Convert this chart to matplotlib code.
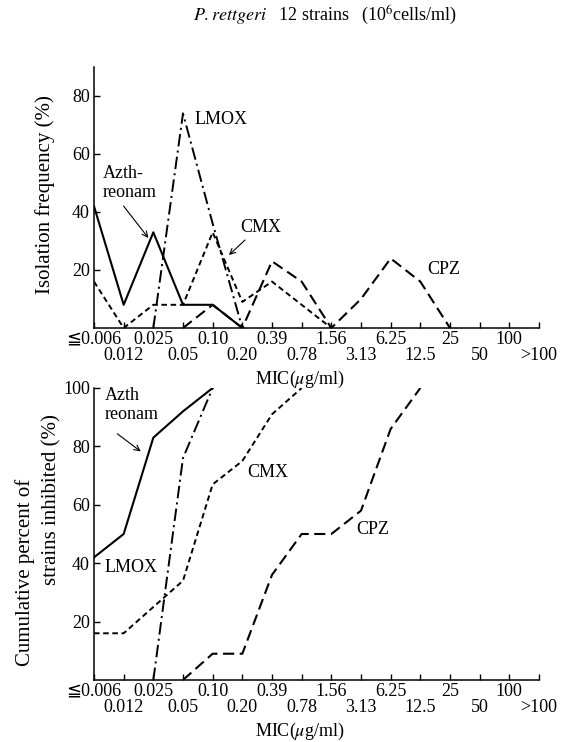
import matplotlib
matplotlib.use('Agg')
import matplotlib.pyplot as plt

plt.rcParams['font.family'] = ['Liberation Serif', 'DejaVu Serif', 'DejaVu Sans', 'Noto Sans CJK JP']
plt.rcParams['mathtext.fontset'] = 'stix'
plt.rcParams['lines.scale_dashes'] = False

# MIC categories (ug/ml)
mic_labels = ['≦0.006', '0.012', '0.025', '0.05', '0.10', '0.20', '0.39', '0.78',
              '1.56', '3.13', '6.25', '12.5', '25', '50', '100', '>100']

# isolation frequency (%)
azt_x = [0, 1, 2, 3, 4, 5]
azt_freq = [42, 8, 33, 8, 8, 0]
lmox_x = [2, 3, 4, 5]
lmox_freq = [0, 74, 36, 0]
cmx_x = [0, 1, 2, 3, 4, 5, 6, 7, 8]
cmx_freq = [16, 0, 8, 8, 33, 9, 16, 8, 0]
cpz_x = [3, 4, 5, 6, 7, 8, 9, 10, 11, 12]
cpz_freq = [0, 8, 0, 23, 16, 0, 10, 24, 16, 0]

# cumulative percent of strains inhibited
azt_cx = [0, 1, 2, 3, 4]
azt_cum = [42, 50, 83, 92, 100]
lmox_cx = [2, 3, 4]
lmox_cum = [0, 76, 100]
cmx_cx = [0, 1, 2, 3, 4, 5, 6, 7]
cmx_cum = [16, 16, 25, 34, 67, 75, 91, 100]
cpz_cx = [3, 4, 5, 6, 7, 8, 9, 10, 11]
cpz_cum = [0, 9, 9, 36, 50, 50, 58, 86, 100]

styles = {
    'azt': dict(color='black', lw=1.5, ls='-'),
    'lmox': dict(color='black', lw=1.4, dashes=(9, 3, 1.5, 3)),
    'cmx': dict(color='black', lw=1.4, dashes=(4, 2.6)),
    'cpz': dict(color='black', lw=1.5, dashes=(8, 4)),
}

fig = plt.figure(figsize=(5.63, 7.42), dpi=100)
ax1 = fig.add_axes([94 / 563, 1 - 328 / 742, 445 / 563, 261 / 742])
ax2 = fig.add_axes([94 / 563, 1 - 680 / 742, 445 / 563, 292 / 742])


def style_axis(ax, ymax, yticks, axh_px):
    ax.set_xlim(0, 15)
    ax.set_ylim(0, ymax)
    for s in ['top', 'right']:
        ax.spines[s].set_visible(False)
    for s in ['left', 'bottom']:
        ax.spines[s].set_linewidth(1.1)
    ax.set_yticks(yticks)
    # two rows of MIC labels: even categories on top row, odd ones below
    ax.set_xticks(range(0, 16, 2))
    ax.set_xticklabels(mic_labels[0::2])
    ax.set_xticks(range(1, 16, 2), minor=True)
    ax.set_xticklabels(mic_labels[1::2], minor=True)
    ax.tick_params(which='both', direction='in', length=4, width=1.0, labelsize=13)
    ax.tick_params(axis='x', which='major', pad=2)
    ax.tick_params(axis='x', which='minor', pad=14)
    ax.tick_params(axis='y', pad=3)
    ax.text(0.463, -51 / axh_px, 'MIC(' + r'$\mu$' + 'g/ml)',
            transform=ax.transAxes, ha='center', va='center', fontsize=13)


# top panel
ax1.plot(azt_x, azt_freq, **styles['azt'])
ax1.plot(lmox_x, lmox_freq, **styles['lmox'])
ax1.plot(cmx_x, cmx_freq, **styles['cmx'])
ax1.plot(cpz_x, cpz_freq, **styles['cpz'])
style_axis(ax1, 90, [20, 40, 60, 80], 261)

ax1.text(3.4, 72, 'LMOX', fontsize=13, va='center')
ax1.text(0.3, 50, 'Azth-\nreonam', fontsize=13, va='center', linespacing=1.1)
ax1.annotate('', xy=(1.89, 30.3), xytext=(0.94, 42.8),
             arrowprops=dict(arrowstyle='->', lw=0.8, color='black'))
ax1.text(4.92, 34.8, 'CMX', fontsize=13, va='center')
ax1.annotate('', xy=(4.48, 24.5), xytext=(5.16, 31),
             arrowprops=dict(arrowstyle='->', lw=0.8, color='black'))
ax1.text(11.22, 20, 'CPZ', fontsize=13, va='center')

# bottom panel
ax2.plot(azt_cx, azt_cum, **styles['azt'])
ax2.plot(lmox_cx, lmox_cum, **styles['lmox'])
ax2.plot(cmx_cx, cmx_cum, **styles['cmx'])
ax2.plot(cpz_cx, cpz_cum, **styles['cpz'])
style_axis(ax2, 100, [20, 40, 60, 80, 100], 292)

ax2.text(0.37, 94.2, 'Azth\nreonam', fontsize=13, va='center', linespacing=1.1)
ax2.annotate('', xy=(1.65, 77.7), xytext=(0.71, 84.9),
             arrowprops=dict(arrowstyle='->', lw=0.8, color='black'))
ax2.text(5.16, 71.2, 'CMX', fontsize=13, va='center')
ax2.text(0.37, 38.4, 'LMOX', fontsize=13, va='center')
ax2.text(8.83, 51.4, 'CPZ', fontsize=13, va='center')

# labels
fig.text(0.577, 1 - 15 / 742, r'$\it{P.rettgeri}$' + '   12 strains   (10' + r'$^6$' + 'cells/ml)',
         ha='center', va='center', fontsize=13)
fig.text(45 / 563, 1 - 195 / 742, 'Isolation frequency (%)', rotation=90,
         ha='center', va='center', fontsize=15)
fig.text(25 / 563, 1 - 572 / 742, 'Cumulative percent of', rotation=90,
         ha='center', va='center', fontsize=15)
fig.text(52 / 563, 1 - 500 / 742, 'strains inhibited (%)', rotation=90,
         ha='center', va='center', fontsize=15)

fig.savefig('out.png', dpi=100)
